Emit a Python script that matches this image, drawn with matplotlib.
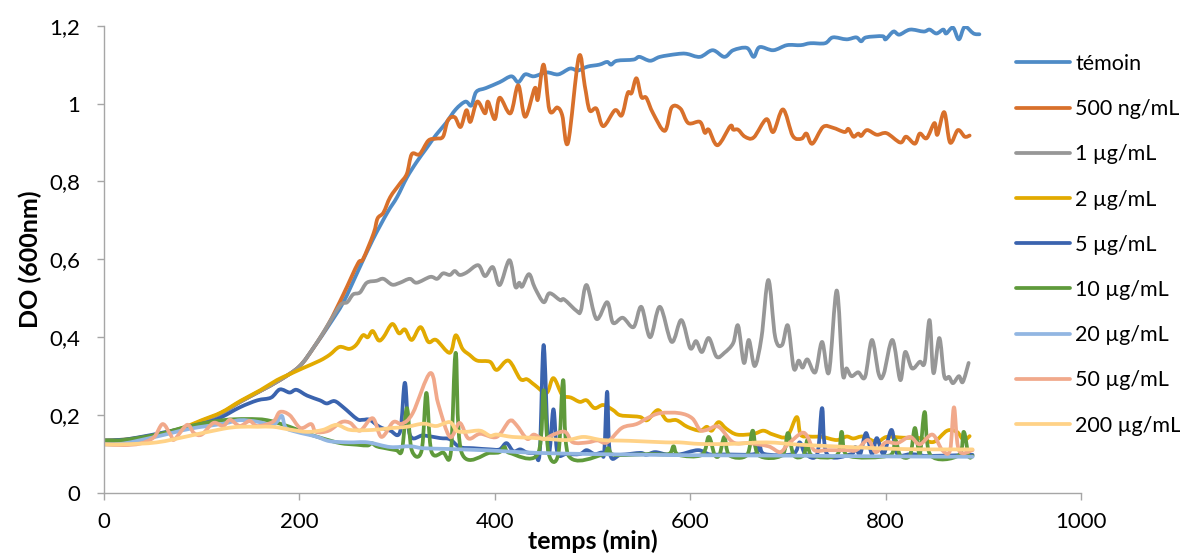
import matplotlib
matplotlib.use("Agg")
import matplotlib.pyplot as plt
from matplotlib.ticker import FuncFormatter
from matplotlib.path import Path
from matplotlib.patches import PathPatch
from matplotlib.lines import Line2D

plt.rcParams['font.family'] = ['Lato', 'DejaVu Sans']

# ---------------- data (time in min, DO 600 nm) ----------------
t_temoin = [0,20,40,60,80,100,120,140,160,180,200,215,230,245,260,275,290,300,310,320,
            330,340,350,360,370,376,381,391,405,417,424,431,440,453,465,477,485,495,507,515,
            519,525,542,548,559,569,586,596,610,623,635,644,658,665,671,685,699,713,723,738,
            746,760,770,775,780,797,800,808,814,825,839,845,852,859,862,869,875,881,890,896]
y_temoin = [.13,.135,.143,.152,.165,.185,.205,.235,.262,.29,.325,.375,.43,.49,.57,.65,.72,.76,.81,.85,
            .885,.92,.95,.985,1.005,.995,1.03,1.04,1.055,1.07,1.055,1.075,1.07,1.08,1.075,1.09,1.085,1.095,1.10,1.107,
            1.10,1.11,1.113,1.12,1.11,1.12,1.127,1.128,1.12,1.137,1.12,1.137,1.143,1.12,1.145,1.137,1.15,1.15,1.155,1.155,
            1.17,1.165,1.17,1.16,1.17,1.173,1.165,1.185,1.177,1.19,1.185,1.19,1.18,1.19,1.18,1.195,1.165,1.197,1.18,1.178]

t_500ng = [0,20,40,60,80,100,120,140,160,180,200,215,230,245,260,265,276,280,286,293,
           303,310,315,323,332,340,347,352,359,365,371,375,382,390,393,400,405,416,424,431,
           441,444,450,456,464,469,475,486,492,497,504,511,523,530,536,540,545,550,555,562,
           574,581,590,598,610,615,619,628,641,644,649,656,665,678,685,695,705,714,719,725,
           736,746,758,762,767,772,775,781,791,801,815,821,830,835,842,850,853,860,866,874,881,886]
y_500ng = [.13,.135,.143,.152,.165,.185,.205,.235,.262,.29,.325,.375,.435,.51,.59,.60,.667,.705,.72,.76,
           .795,.82,.87,.87,.905,.91,.915,.957,.965,.94,.983,.953,1.005,.975,1.005,.96,1.015,.975,1.047,.966,
           1.04,1.01,1.10,.983,.99,.97,.90,1.12,1.047,.983,.987,.942,.983,.97,1.027,1.027,1.065,1.017,1.015,.975,
           .93,.99,.987,.95,.953,.925,.933,.893,.942,.933,.933,.915,.913,.96,.927,.985,.917,.91,.923,.897,
           .94,.938,.927,.935,.915,.923,.917,.932,.92,.924,.90,.915,.897,.923,.911,.95,.92,.978,.90,.932,.915,.918]

t_1ug = [0,20,40,60,80,100,120,140,160,180,200,215,230,242,249,255,262,269,279,286,
         295,303,313,320,334,341,347,354,359,364,371,383,390,398,405,415,421,425,428,435,
         441,450,456,467,471,484,488,494,504,515,521,531,542,550,559,569,581,591,600,606,
         612,619,627,635,644,649,655,660,666,673,680,687,694,700,706,711,715,720,728,735,
         742,750,756,760,765,772,779,786,793,798,807,815,820,827,835,840,845,849,855,860,
         865,869,875,879,885]
y_1ug = [.13,.135,.143,.152,.165,.185,.205,.235,.262,.29,.325,.375,.435,.483,.49,.51,.515,.54,.545,.55,
         .535,.54,.55,.54,.555,.55,.564,.56,.57,.56,.566,.585,.557,.58,.534,.598,.53,.54,.53,.562,
         .527,.49,.513,.495,.497,.467,.468,.534,.447,.49,.437,.45,.426,.478,.40,.478,.388,.444,.372,.39,
         .362,.398,.35,.36,.385,.43,.334,.393,.326,.40,.547,.40,.38,.43,.32,.34,.322,.343,.31,.388,
         .31,.52,.308,.32,.30,.31,.298,.393,.305,.305,.393,.29,.362,.32,.337,.335,.444,.308,.398,.30,
         .298,.282,.30,.285,.334]

t_2ug = [0,20,40,60,80,100,120,140,160,177,190,203,221,231,241,251,258,265,270,275,
         281,286,295,302,308,315,324,332,340,354,360,367,374,382,395,402,414,426,433,441,
         453,460,469,478,487,494,502,511,521,528,541,549,556,567,576,586,597,610,617,622,
         629,637,648,665,675,685,699,709,713,722,735,750,760,767,777,791,801,818,835,849,
         863,873,880,886]
y_2ug = [.135,.137,.144,.153,.167,.187,.207,.237,.264,.29,.305,.32,.34,.355,.375,.37,.38,.405,.40,.416,
         .392,.40,.434,.41,.42,.393,.426,.388,.393,.36,.405,.37,.355,.34,.337,.316,.34,.293,.292,.277,
         .257,.295,.252,.245,.234,.238,.218,.226,.213,.20,.197,.195,.187,.213,.187,.187,.17,.16,.17,.16,
         .182,.165,.15,.152,.16,.15,.145,.195,.15,.145,.144,.136,.145,.14,.145,.131,.144,.142,.141,.131,
         .16,.157,.136,.146]

t_5ug = [0,20,40,60,88,116,139,157,171,180,190,197,208,221,228,236,245,259,265,272,
         282,293,303,308,313,327,344,354,364,378,395,405,412,419,426,433,441,446,450,455,
         460,464,473,487,494,502,509,512,515,518,529,549,555,564,576,589,608,620,635,666,
         671,676,705,712,718,730,735,740,765,769,774,780,786,791,798,806,812,826,836,843,889]
y_5ug = [.135,.137,.145,.155,.17,.19,.22,.238,.245,.266,.258,.265,.25,.238,.23,.236,.22,.19,.188,.188,
         .17,.16,.157,.283,.15,.148,.141,.138,.118,.115,.112,.112,.128,.107,.112,.104,.103,.105,.38,.105,
         .215,.104,.10,.10,.11,.10,.104,.104,.26,.10,.098,.103,.098,.105,.099,.099,.11,.099,.099,.10,
         .12,.10,.10,.13,.10,.10,.218,.10,.10,.118,.10,.154,.10,.141,.10,.162,.10,.10,.097,.095,.098]

t_10ug = [0,20,54,88,122,146,167,190,208,224,242,259,270,274,279,286,299,305,310,315,
          325,330,335,347,355,360,366,395,405,410,415,444,450,455,465,470,475,510,516,522,
          558,578,583,588,612,619,625,630,635,640,658,664,670,694,700,706,716,720,724,750,
          755,760,805,810,815,825,830,835,840,846,875,880,885,889]
y_10ug = [.135,.136,.15,.172,.187,.19,.187,.17,.153,.14,.128,.124,.122,.128,.12,.116,.11,.11,.218,.11,
          .108,.257,.108,.104,.104,.36,.104,.103,.105,.118,.103,.1,.264,.103,.1,.29,.098,.098,.115,.098,
          .1,.1,.12,.098,.098,.144,.098,.098,.144,.097,.097,.16,.097,.097,.154,.097,.097,.136,.097,.097,
          .157,.097,.097,.136,.097,.097,.167,.1,.208,.097,.097,.157,.095,.095]

t_20ug = [0,20,54,88,122,139,157,170,176,182,186,197,217,231,251,270,293,313,327,354,
          387,404,444,500,600,700,800,889]
y_20ug = [.125,.127,.145,.165,.178,.187,.183,.175,.18,.198,.168,.157,.145,.133,.13,.13,.118,.12,.115,.113,
          .11,.108,.103,.1,.097,.096,.094,.093]

t_50ug = [0,20,37,51,60,68,72,85,92,100,112,122,129,139,149,157,173,180,190,201,
          212,217,230,243,252,262,275,284,296,305,316,334,342,354,364,373,385,402,415,422,
          433,440,450,460,472,480,495,505,515,530,545,556,569,589,602,610,617,629,644,660,
          680,692,700,714,720,727,740,760,770,782,790,800,812,825,835,848,858,866,870,875,889]
y_50ug = [.125,.123,.127,.143,.177,.15,.137,.175,.154,.15,.18,.172,.188,.172,.185,.172,.183,.208,.2,.167,
          .177,.157,.16,.182,.18,.16,.192,.144,.182,.178,.205,.308,.23,.144,.18,.14,.152,.144,.185,.175,
          .139,.15,.138,.15,.157,.13,.13,.135,.13,.167,.177,.192,.205,.205,.192,.162,.162,.17,.13,.128,
          .12,.105,.125,.154,.145,.11,.11,.11,.11,.136,.105,.13,.128,.144,.125,.15,.11,.11,.22,.11,.11]

t_200ug = [0,20,54,88,122,139,157,173,190,208,224,238,252,275,295,310,327,340,354,361,
           370,385,395,402,418,436,453,474,491,510,538,575,589,610,640,678,712,746,781,815,849,889]
y_200ug = [.125,.125,.13,.147,.165,.17,.17,.17,.163,.157,.162,.175,.162,.162,.167,.17,.178,.172,.182,.16,
           .157,.16,.147,.15,.144,.142,.139,.136,.144,.136,.134,.13,.13,.126,.126,.13,.124,.12,.116,.113,.112,.112]

labels = ['témoin', '500 ng/mL', '1 µg/mL', '2 µg/mL', '5 µg/mL',
          '10 µg/mL', '20 µg/mL', '50 µg/mL', '200 µg/mL']
colors = ['#4F8BC6', '#D8702B', '#979797', '#E2AA00', '#3A63AE',
          '#5F9A3B', '#92B6E2', '#F1A98B', '#FFD287']
series = [(t_temoin, y_temoin), (t_500ng, y_500ng), (t_1ug, y_1ug), (t_2ug, y_2ug),
          (t_5ug, y_5ug), (t_10ug, y_10ug), (t_20ug, y_20ug), (t_50ug, y_50ug),
          (t_200ug, y_200ug)]

x_ticks = [0, 200, 400, 600, 800, 1000]
y_ticks = [0, 0.2, 0.4, 0.6, 0.8, 1.0, 1.2]


def smooth_path(xs, ys):
    """Excel-like smoothed line: Catmull-Rom segments drawn as cubic Bezier curves."""
    pts = list(zip(xs, ys))
    n = len(pts)
    verts = [pts[0]]
    codes = [Path.MOVETO]
    for i in range(n - 1):
        p0 = pts[i - 1] if i > 0 else pts[i]
        p1 = pts[i]
        p2 = pts[i + 1]
        p3 = pts[i + 2] if i + 2 < n else pts[i + 1]
        c1x = min(max(p1[0] + (p2[0] - p0[0]) / 6, p1[0]), p2[0])
        c2x = min(max(p2[0] - (p3[0] - p1[0]) / 6, p1[0]), p2[0])
        c1 = (c1x, p1[1] + (p2[1] - p0[1]) / 6)
        c2 = (c2x, p2[1] - (p3[1] - p1[1]) / 6)
        verts += [c1, c2, p2]
        codes += [Path.CURVE4] * 3
    return Path(verts, codes)


# ---------------- figure ----------------
W, H = 1180, 554
fig = plt.figure(figsize=(W / 100, H / 100), dpi=100)
ax = fig.add_axes([104 / W, 1 - 493 / H, (1081 - 104) / W, (493 - 25.7) / H])

LW = 2.7
handles = []
for (tt, yy), lab, col in zip(series, labels, colors):
    patch = PathPatch(smooth_path(tt, yy), facecolor='none', edgecolor=col, lw=LW,
                      joinstyle='round', capstyle='round')
    ax.add_patch(patch)
    handles.append(Line2D([], [], color=col, lw=LW, solid_capstyle='round', label=lab))

ax.set_xlim(0, 1000)
ax.set_ylim(0, 1.2)
ax.set_xticks(x_ticks)
ax.set_yticks(y_ticks)
ax.yaxis.set_major_formatter(FuncFormatter(lambda v, p: ('%g' % round(v, 1)).replace('.', ',')))

for s in ['top', 'right']:
    ax.spines[s].set_visible(False)
for s in ['left', 'bottom']:
    ax.spines[s].set_color('#A6A6A6')
    ax.spines[s].set_linewidth(1.0)
ax.tick_params(axis='both', direction='out', length=5, width=1, color='#A6A6A6',
               labelsize=16, labelcolor='black')
ax.tick_params(axis='x', pad=9)
ax.tick_params(axis='y', pad=12)

ax.set_ylabel('DO (600nm)', fontsize=18, fontweight='bold')
ax.yaxis.set_label_coords((30 - 104) / (1081 - 104), 0.5)
ax.yaxis.label.set_va('center')
ax.set_xlabel('temps (min)', fontsize=18, fontweight='bold')
ax.xaxis.set_label_coords((593 - 104) / (1081 - 104), -(541 - 493) / (493 - 25.7))
ax.xaxis.label.set_va('center')

fig.legend(handles=handles, loc='upper left', bbox_to_anchor=(1016 / W, 1 - 54 / H),
           frameon=False, fontsize=15.5, handlelength=2.5, handletextpad=0.25,
           labelspacing=1.17, borderaxespad=0, borderpad=0)

fig.savefig('out.png', dpi=100)
